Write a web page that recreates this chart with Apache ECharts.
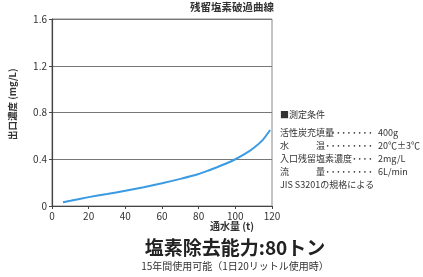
<!DOCTYPE html>
<html><head><meta charset="utf-8">
<script src="https://cdn.jsdelivr.net/npm/echarts@6/dist/echarts.min.js"></script>
<style>html,body{margin:0;padding:0;background:#fff}#c{width:423px;height:277px}</style>
</head><body><div id="c"></div>
<script>
const waterVolume = [6, 10, 20, 30, 40, 50, 60, 70, 80, 85, 90, 95, 100, 105, 110, 115, 119];
const concentration = [0.033, 0.045, 0.076, 0.102, 0.13, 0.16, 0.194, 0.232, 0.274, 0.302, 0.332, 0.364, 0.40, 0.443, 0.496, 0.566, 0.65];
const condLabels = ['活性炭充填量', '水　　　温', '入口残留塩素濃度', '流　　　量'];
const condValues = ['400g', '20℃±3℃', '2mg/L', '6L/min'];
const FONT = '"Noto Sans CJK JP", "Noto Sans", sans-serif';
const chart = echarts.init(document.getElementById('c'));
const rowY = [128, 141, 154, 167];
const condTexts = [];
condTexts.push({ type: 'text', left: 280, top: 110, style: { text: '■測定条件', fill: '#333', font: '9px ' + FONT } });
condLabels.forEach((t, i) => {
  condTexts.push({ type: 'text', left: 280, top: rowY[i], style: { text: t, fill: '#333', font: '9px ' + FONT } });
  condTexts.push({ type: 'text', right: 423 - 373, top: rowY[i], style: { text: '·········'.slice(0, i === 2 ? 4 : 9), fill: '#333', font: 'bold 9px ' + FONT } });
  condTexts.push({ type: 'text', left: 378, top: rowY[i], style: { text: condValues[i], fill: '#333', font: '9px ' + FONT } });
});
condTexts.push({ type: 'text', left: 280, top: 180, style: { text: 'JIS S3201の規格による', fill: '#333', font: '9px ' + FONT } });
chart.setOption({
  animation: false,
  grid: { left: 52, right: 151, top: 19, bottom: 71, show: true, borderColor: '#888', borderWidth: 1 },
  xAxis: {
    type: 'value', min: 0, max: 120, interval: 20,
    axisLine: { lineStyle: { color: '#444', width: 1.2 } },
    axisTick: { show: true, length: 3, lineStyle: { color: '#444' } },
    axisLabel: { color: '#333', fontSize: 10, fontFamily: FONT, margin: 5 },
    splitLine: { show: false }
  },
  yAxis: {
    type: 'value', min: 0, max: 1.6, interval: 0.4,
    axisLine: { show: true, lineStyle: { color: '#444', width: 1.2 } },
    axisTick: { show: true, length: 3, lineStyle: { color: '#444' } },
    axisLabel: { color: '#333', fontSize: 10, fontFamily: FONT, margin: 5,
      formatter: v => v === 0 ? '0' : v.toFixed(1) },
    splitLine: { show: true, lineStyle: { color: '#777', width: 1 } }
  },
  series: [{
    type: 'line', smooth: 0.2, symbol: 'none',
    data: waterVolume.map((x, i) => [x, concentration[i]]),
    lineStyle: { color: '#3a9be3', width: 2 }
  }],
  graphic: [
    { type: 'text', left: 190, top: 2, style: { text: '残留塩素破過曲線', fill: '#333', font: 'bold 10.5px ' + FONT } },
    { type: 'text', x: 8, y: 140, rotation: Math.PI / 2, style: { text: '出口濃度 (mg/L)', fill: '#333', font: 'bold 9.5px ' + FONT } },
    { type: 'text', left: 210, top: 221, style: { text: '通水量 (t)', fill: '#333', font: 'bold 10px ' + FONT } },
    { type: 'text', x: 235, top: 238, style: { text: '塩素除去能力:80トン', fill: '#222', font: 'bold 19px ' + FONT, textAlign: 'center' } },
    { type: 'text', x: 235, top: 261, style: { text: '15年間使用可能（1日20リットル使用時）', fill: '#333', font: '10px ' + FONT, textAlign: 'center' } }
  ].concat(condTexts)
});
</script></body></html>
